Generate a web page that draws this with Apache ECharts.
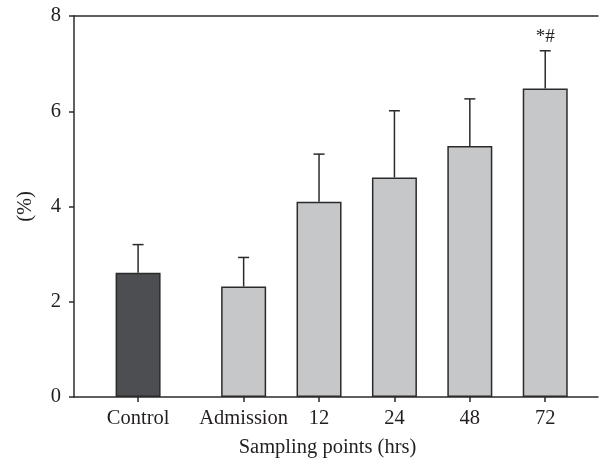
<!DOCTYPE html>
<html>
<head>
<meta charset="utf-8">
<script src="https://cdn.jsdelivr.net/npm/echarts@6/dist/echarts.min.js"></script>
<style>
html,body{margin:0;padding:0;background:#fff;}
#chart{width:599px;height:464px;}
</style>
</head>
<body>
<div id="chart"></div>
<script>
var categories = ["Control", "Admission", "12", "24", "48", "72"];
var meanValues = [2.61, 2.32, 4.10, 4.61, 5.27, 6.48];
var upperValues = [3.20, 2.93, 5.10, 6.01, 6.26, 7.27];
var annotations = ["", "", "", "", "", "*#"];
var yTicks = [0, 2, 4, 6, 8];

// horizontal slot of each category (Control is set apart from the time points)
var slots = categories.map(function (c, i) { return i === 0 ? 0 : i + 0.4; });

var FONT = "Liberation Serif";
var FS = 20.5;
var TXT = "#231f20";
var LINE = "#2b2b2b";

var chart = echarts.init(document.getElementById('chart'), null, {renderer: 'canvas'});

var barData = meanValues.map(function (v, i) {
  return {
    value: [slots[i], v],
    itemStyle: {color: i === 0 ? '#4d4e52' : '#c6c7c9'}
  };
});
var errData = meanValues.map(function (v, i) { return [slots[i], v, upperValues[i], i]; });

function findIndex(val) {
  for (var i = 0; i < slots.length; i++) if (Math.abs(slots[i] - val) < 1e-6) return i;
  return -1;
}

var option = {
  animation: false,
  backgroundColor: '#fff',
  grid: {left: 74, right: 1, top: 16, bottom: 67, containLabel: false},
  xAxis: [{
    type: 'value',
    min: -0.85,
    max: 6.1,
    position: 'bottom',
    splitLine: {show: false},
    axisLine: {show: true, onZero: false, lineStyle: {color: LINE, width: 1.5}},
    axisTick: {show: true, length: 5, inside: false, customValues: slots, lineStyle: {color: LINE, width: 1.5}},
    axisLabel: {
      customValues: slots,
      margin: 11,
      fontFamily: FONT, fontSize: FS, color: TXT,
      formatter: function (val) { var k = findIndex(val); return k >= 0 ? categories[k] : ''; }
    },
    name: 'Sampling points (hrs)',
    nameLocation: 'middle',
    nameGap: 40,
    nameTextStyle: {fontFamily: FONT, fontSize: FS, color: TXT, padding: [0, 17, 0, 0]}
  }, {
    type: 'value',
    min: -0.85,
    max: 6.1,
    position: 'top',
    splitLine: {show: false},
    axisLine: {show: true, onZero: false, lineStyle: {color: LINE, width: 1.5}},
    axisTick: {show: false},
    axisLabel: {show: false}
  }],
  yAxis: {
    type: 'value',
    min: 0,
    max: 8,
    interval: 2,
    splitLine: {show: false},
    axisLine: {show: true, onZero: false, lineStyle: {color: LINE, width: 1.5}},
    axisTick: {show: true, length: 5, inside: false, customValues: yTicks, lineStyle: {color: LINE, width: 1.5}},
    axisLabel: {customValues: yTicks, margin: 13, fontFamily: FONT, fontSize: FS, color: TXT},
    name: '(%)',
    nameLocation: 'middle',
    nameRotate: 90,
    nameGap: 38,
    nameTextStyle: {fontFamily: FONT, fontSize: FS, color: TXT}
  },
  series: [{
    type: 'bar',
    xAxisIndex: 0,
    barWidth: 45,
    data: barData,
    itemStyle: {borderColor: LINE, borderWidth: 1.5},
    z: 2
  }, {
    type: 'custom',
    xAxisIndex: 0,
    data: errData,
    z: 3,
    renderItem: function (params, api) {
      var x = api.value(0);
      var top = api.coord([x, api.value(1)]);
      var up = api.coord([x, api.value(2)]);
      var idx = api.value(3);
      var children = [{
        type: 'line',
        shape: {x1: top[0], y1: top[1], x2: up[0], y2: up[1]},
        style: {stroke: LINE, lineWidth: 1.5}
      }, {
        type: 'line',
        shape: {x1: up[0] - 5.5, y1: up[1], x2: up[0] + 5.5, y2: up[1]},
        style: {stroke: LINE, lineWidth: 1.5}
      }];
      if (annotations[idx]) {
        children.push({
          type: 'text',
          style: {
            text: annotations[idx],
            x: up[0], y: up[1] - 4,
            align: 'center', verticalAlign: 'bottom',
            font: '19px "' + FONT + '"', fill: TXT
          }
        });
      }
      return {type: 'group', children: children};
    }
  }]
};
chart.setOption(option);
</script>
</body>
</html>
